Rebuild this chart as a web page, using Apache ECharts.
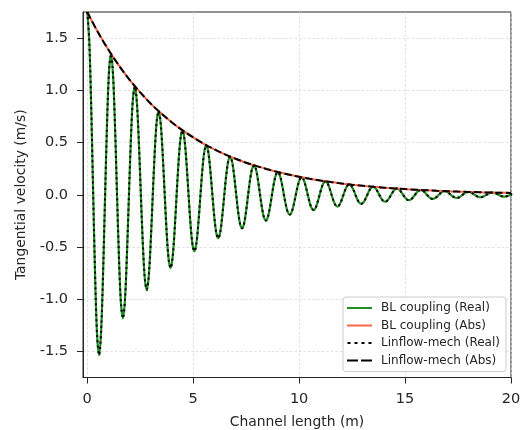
<!DOCTYPE html>
<html><head><meta charset="utf-8">
<script src="https://cdn.jsdelivr.net/npm/echarts@6/dist/echarts.min.js"></script>
<style>html,body{margin:0;padding:0;background:#fff}#c{width:527px;height:430px}</style>
</head><body><div id="c"></div>
<script>
const seriesNames = ['BL coupling (Real)', 'BL coupling (Abs)', 'Linflow-mech (Real)', 'Linflow-mech (Abs)'];
const xTicks = [0, 5, 10, 15, 20];
const yTicks = [-1.5, -1.0, -0.5, 0.0, 0.5, 1.0, 1.5];
const xTitle = 'Channel length (m)';
const yTitle = 'Tangential velocity (m/s)';

// sampling grid of the real-part curve (x = index * step, m)
const realXStep = 0.09375;
// sampling grid of the magnitude curve (x = index * step, m)
const absXStep = 0.5;

// Real part of tangential velocity (m/s)
const blReal = [
  1.750, 1.483, 0.838, 0, -0.802, -1.359, -1.536, -1.301, -0.735, 0, 0.704, 1.193,
  1.348, 1.142, 0.645, 0, -0.618, -1.047, -1.183, -1.003, -0.566, 0, 0.542, 0.919,
  1.038, 0.880, 0.497, 0, -0.476, -0.807, -0.911, -0.772, -0.436, 0, 0.418, 0.708,
  0.800, 0.678, 0.383, 0, -0.367, -0.621, -0.702, -0.595, -0.336, 0, 0.322, 0.545,
  0.616, 0.522, 0.295, 0, -0.282, -0.479, -0.541, -0.458, -0.259, 0, 0.248, 0.420,
  0.475, 0.402, 0.227, 0, -0.218, -0.369, -0.417, -0.353, -0.199, 0, 0.191, 0.324,
  0.366, 0.310, 0.175, 0, -0.168, -0.284, -0.321, -0.272, -0.154, 0, 0.147, 0.249,
  0.282, 0.239, 0.135, 0, -0.129, -0.219, -0.247, -0.209, -0.118, 0, 0.113, 0.192,
  0.217, 0.184, 0.104, 0, -0.099, -0.169, -0.190, -0.161, -0.091, 0, 0.087, 0.148,
  0.167, 0.142, 0.080, 0, -0.077, -0.130, -0.147, -0.124, -0.070, 0, 0.067, 0.114,
  0.129, 0.109, 0.062, 0, -0.059, -0.100, -0.113, -0.096, -0.054, 0, 0.052, 0.088,
  0.099, 0.084, 0.047, 0, -0.045, -0.077, -0.087, -0.074, -0.042, 0, 0.040, 0.068,
  0.076, 0.065, 0.037, 0, -0.035, -0.059, -0.067, -0.057, -0.032, 0, 0.031, 0.052,
  0.059, 0.050, 0.028, 0, -0.027, -0.046, -0.052, -0.044, -0.025, 0, 0.024, 0.040,
  0.045, 0.038, 0.022, 0, -0.021, -0.035, -0.040, -0.034, -0.019, 0, 0.018, 0.031,
  0.035, 0.030, 0.017, 0, -0.016, -0.027, -0.031, -0.026, -0.015, 0, 0.014, 0.024,
  0.027, 0.023, 0.013, 0, -0.012, -0.021, -0.024, -0.020, -0.011, 0, 0.011, 0.018,
  0.021, 0.018, 0.010, 0, -0.009, -0.016, -0.018, -0.015, -0.009, 0, 0.008
];

// Magnitude of tangential velocity (m/s)
const blAbs = [
  1.750, 1.558, 1.388, 1.236, 1.100, 0.980, 0.872, 0.777, 0.692, 0.616,
  0.549, 0.488, 0.435, 0.387, 0.345, 0.307, 0.274, 0.244, 0.217, 0.193,
  0.172, 0.153, 0.136, 0.121, 0.108, 0.096, 0.086, 0.076, 0.068, 0.061,
  0.054, 0.048, 0.043, 0.038, 0.034, 0.030, 0.027, 0.024, 0.021, 0.019,
  0.017
];

// Linflow-mech results coincide with the BL coupling curves in the picture
const linflowReal = blReal.slice();
const linflowAbs = blAbs.slice();

function toPairs(step, vals) { return vals.map((v, i) => [i * step, v]); }

const FONT = 'DejaVu Sans';
const INK = '#262626';

const chart = echarts.init(document.getElementById('c'), null, { renderer: 'canvas' });

const gridLine = { show: true, lineStyle: { color: '#d8d8d8', width: 0.8, type: [2.5, 2] } };

chart.setOption({
  animation: false,
  backgroundColor: '#ffffff',
  grid: { left: 83, right: 16, top: 12, bottom: 52.5, outerBoundsMode: 'none', containLabel: false,
    show: true, borderColor: INK, borderWidth: 1, backgroundColor: 'transparent' },
  xAxis: {
    type: 'value', min: -0.2, max: 20,
    name: xTitle, nameLocation: 'middle', nameGap: 38,
    nameTextStyle: { fontFamily: FONT, fontSize: 13.9, color: INK },
    axisLine: { show: true, onZero: false, lineStyle: { color: INK, width: 1 } },
    axisTick: { show: true, inside: false, length: 6, customValues: xTicks, lineStyle: { color: INK, width: 1 } },
    axisLabel: { customValues: xTicks, fontFamily: FONT, fontSize: 14.5, color: INK, margin: 14, formatter: v => String(v) },
    splitLine: gridLine
  },
  yAxis: {
    type: 'value', min: -1.75, max: 1.75,
    name: yTitle, nameLocation: 'middle', nameGap: 54, nameRotate: 90,
    nameTextStyle: { fontFamily: FONT, fontSize: 13.9, color: INK },
    axisLine: { show: true, onZero: false, lineStyle: { color: INK, width: 1 } },
    axisTick: { show: true, inside: false, length: 6, customValues: yTicks, lineStyle: { color: INK, width: 1 } },
    axisLabel: { customValues: yTicks, fontFamily: FONT, fontSize: 14.5, color: INK, margin: 15, formatter: v => v.toFixed(1) },
    splitLine: gridLine
  },
  legend: {
    orient: 'vertical', left: 343, top: 297,
    backgroundColor: 'rgba(255,255,255,0.85)', borderColor: '#cccccc', borderWidth: 1, borderRadius: 3,
    padding: [5, 6, 5, 4],
    itemWidth: 25, itemHeight: 2, itemGap: 5.5,
    itemStyle: { borderWidth: 0 },
    textStyle: { fontFamily: FONT, fontSize: 12, color: INK, lineHeight: 12, padding: [0, 0, 0, 4] },
    data: [
      { name: seriesNames[0], icon: 'path://M0,0H25V2H0Z' },
      { name: seriesNames[1], icon: 'path://M0,0H25V2H0Z' },
      { name: seriesNames[2], icon: 'path://M0,0H3V2H0Z M7,0H10V2H7Z M14,0H17V2H14Z M21,0H24V2H21Z' },
      { name: seriesNames[3], icon: 'path://M0,0H11V2H0Z M14,0H25V2H14Z' }
    ]
  },
  series: [
    { name: seriesNames[0], type: 'line', data: toPairs(realXStep, blReal), smooth: 0.33, showSymbol: false, symbol: 'none',
      color: '#228B22', lineStyle: { color: '#228B22', width: 2.2 }, z: 2 },
    { name: seriesNames[1], type: 'line', data: toPairs(absXStep, blAbs), smooth: 0.33, showSymbol: false, symbol: 'none',
      color: '#FF6347', lineStyle: { color: '#FF6347', width: 2 }, z: 3 },
    { name: seriesNames[2], type: 'line', data: toPairs(realXStep, linflowReal), smooth: 0.33, showSymbol: false, symbol: 'none',
      color: '#000000', lineStyle: { color: '#000000', width: 2, type: [2, 3.3], cap: 'butt' }, z: 4 },
    { name: seriesNames[3], type: 'line', data: toPairs(absXStep, linflowAbs), smooth: 0.33, showSymbol: false, symbol: 'none',
      color: '#000000', lineStyle: { color: '#000000', width: 2, type: [7.4, 3.2], cap: 'butt' }, z: 5 }
  ]
});
</script>
</body></html>
